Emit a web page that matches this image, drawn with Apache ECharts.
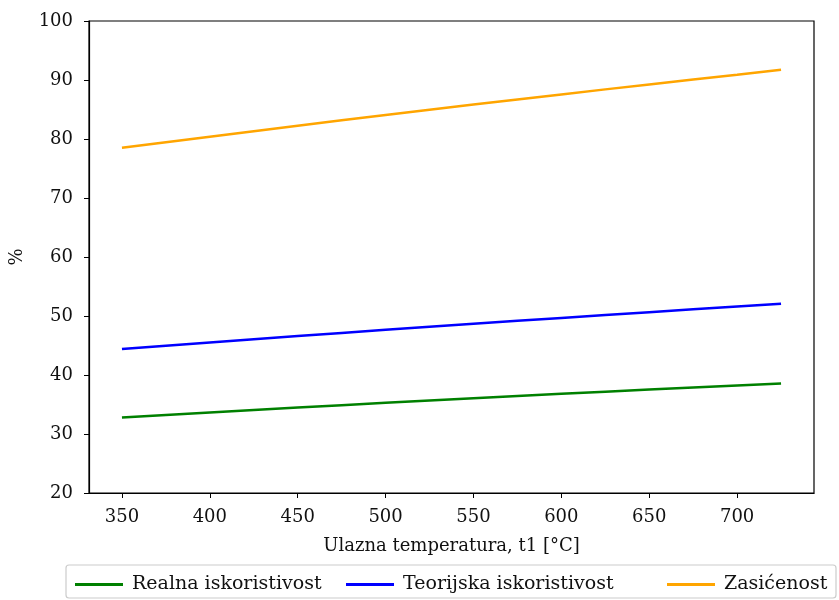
<!DOCTYPE html>
<html>
<head>
<meta charset="utf-8">
<script src="https://cdn.jsdelivr.net/npm/echarts@6/dist/echarts.min.js"></script>
<style>html,body{margin:0;padding:0;background:#fff}#c{width:839px;height:600px}</style>
</head>
<body>
<div id="c"></div>
<script>
const temps = [350,375,400,425,450,475,500,525,550,575,600,625,650,675,700,725];
const realna = [32.8,33.23,33.65,34.07,34.48,34.88,35.28,35.67,36.06,36.44,36.81,37.18,37.54,37.89,38.23,38.57];
const teorijska = [44.4,44.96,45.51,46.06,46.6,47.13,47.65,48.17,48.68,49.18,49.68,50.17,50.65,51.13,51.6,52.06];
const zasicenost = [78.5,79.45,80.4,81.33,82.25,83.16,84.06,84.95,85.83,86.7,87.56,88.41,89.25,90.08,90.9,91.75];
const xTicks = [350,400,450,500,550,600,650,700];
const seriesNames = ['Realna iskoristivost','Teorijska iskoristivost','Zasićenost'];
const colors = ['#008000','#0000ff','#ffa500'];

const font = 'DejaVu Serif';
const pair = arr => temps.map((t,i)=>[t,arr[i]]);
const dataSets = [realna, teorijska, zasicenost];

const chart = echarts.init(document.getElementById('c'));
chart.setOption({
  animation:false,
  backgroundColor:'#fff',
  textStyle:{fontFamily:font},
  grid:{left:89,right:25,top:21,bottom:107,show:true,borderColor:'#000',borderWidth:1.2,backgroundColor:'transparent'},
  xAxis:{
    type:'value',min:331.25,max:743.75,
    name:'Ulazna temperatura, t1 [°C]',nameLocation:'middle',nameGap:44,
    nameTextStyle:{fontFamily:font,fontSize:18,color:'#111'},
    axisLine:{show:true,onZero:false,lineStyle:{color:'#000',width:1.2}},
    axisTick:{show:true,inside:false,length:5,customValues:xTicks,lineStyle:{color:'#000'}},
    axisLabel:{customValues:xTicks,margin:15,fontFamily:font,fontSize:18,color:'#111'},
    splitLine:{show:false}
  },
  yAxis:{
    type:'value',min:20,max:100,interval:10,
    name:'%',nameLocation:'middle',nameGap:63,
    nameTextStyle:{fontFamily:font,fontSize:18,color:'#111'},
    axisLine:{show:true,lineStyle:{color:'#000',width:1.2}},
    axisTick:{show:true,inside:false,length:5,lineStyle:{color:'#000'}},
    axisLabel:{margin:16,fontFamily:font,fontSize:18,color:'#111'},
    splitLine:{show:false}
  },
  legend:seriesNames.map((n,i)=>({
    data:[n],left:[70,341,662][i],top:570,
    itemWidth:48,itemHeight:3,itemGap:10,
    icon:'rect',
    textStyle:{fontFamily:font,fontSize:19,color:'#111',padding:[0,0,0,4]}
  })),
  graphic:[{type:'rect',shape:{x:66,y:565,width:770,height:33,r:3},style:{fill:'none',stroke:'#ccc',lineWidth:1.2},z:0}],
  series:dataSets.map((d,i)=>({
    name:seriesNames[i],type:'line',data:pair(d),
    showSymbol:false,symbol:'none',
    lineStyle:{color:colors[i],width:2.5},
    itemStyle:{color:colors[i]}
  }))
});
</script>
</body>
</html>
